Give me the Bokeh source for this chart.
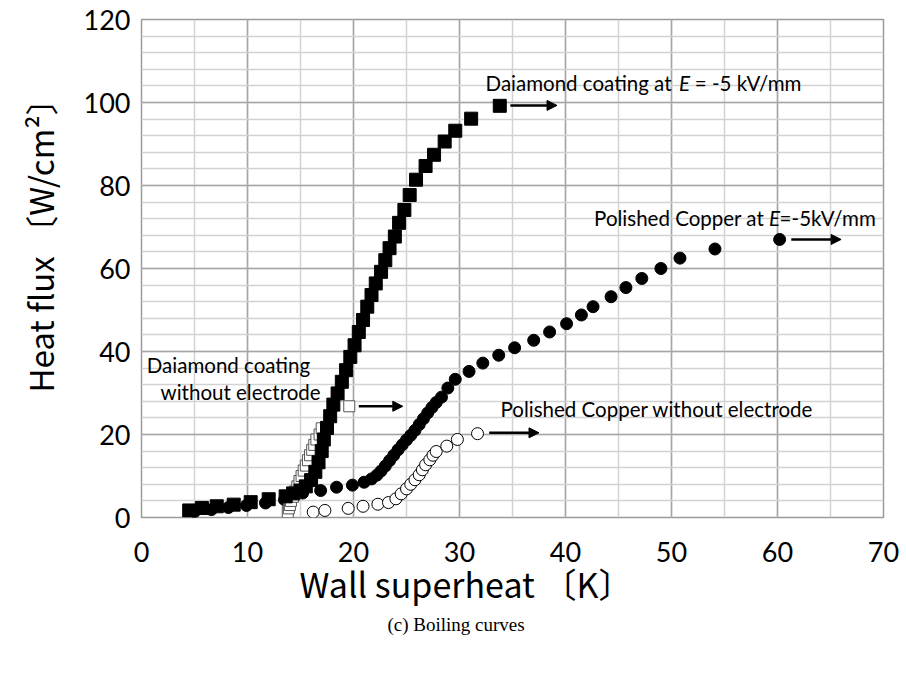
from bokeh.plotting import figure
from bokeh.models import (FixedTicker, Range1d, Arrow, NormalHead, Title)
from bokeh.core.properties import value
from bokeh.embed import file_html
from bokeh.resources import INLINE

# ---- data ----
diamond_e_x = [4.5, 5.7, 7.1, 8.7, 10.3, 12.0, 13.6, 14.3, 15.0, 15.5, 16.0, 16.4, 16.7, 17.0,
               17.2, 17.5, 17.8, 18.1, 18.5, 18.9, 19.3, 19.7, 20.1, 20.5, 20.9, 21.3, 21.7,
               22.1, 22.6, 23.0, 23.4, 23.9, 24.3, 24.8, 25.3, 25.9, 26.8, 27.6, 28.6, 29.6,
               31.1, 33.8]
diamond_e_y = [1.7, 2.3, 2.7, 3.1, 3.7, 4.4, 5.1, 5.8, 6.5, 7.5, 9.0, 11.0, 13.3, 16.0,
               18.8, 21.6, 24.4, 27.2, 29.9, 32.7, 35.5, 38.7, 41.5, 44.7, 47.6, 50.8, 53.6,
               56.4, 59.2, 62.0, 64.9, 67.7, 71.0, 74.1, 77.7, 81.4, 84.7, 87.4, 90.6, 93.2,
               96.1, 99.2]

diamond_0_x = [13.8, 13.9, 14.0, 14.1, 14.3, 14.5, 14.7, 14.9, 15.1, 15.3, 15.5, 15.7,
               15.9, 16.1, 16.3, 16.5, 16.8, 17.0, 19.6]
diamond_0_y = [1.3, 2.2, 3.0, 4.0, 5.0, 6.3, 7.5, 8.8, 10.0, 11.3, 12.5, 13.8,
               15.0, 16.3, 17.5, 18.8, 20.0, 21.5, 26.8]

copper_e_x = [5.0, 6.6, 8.2, 9.9, 11.7, 13.5, 15.2, 16.9, 18.4, 19.9, 21.0, 21.7, 22.2, 22.6,
              23.0, 23.4, 23.8, 24.2, 24.6, 25.0, 25.4, 25.8, 26.2, 26.6, 27.0, 27.4, 27.8,
              28.3, 28.9, 29.6, 30.9, 32.2, 33.7, 35.2, 37.0, 38.5, 40.1, 41.5, 42.6, 44.3,
              45.7, 47.2, 49.0, 50.8, 54.1, 60.2]
copper_e_y = [1.4, 1.9, 2.4, 2.9, 3.5, 4.3, 5.9, 6.5, 7.3, 7.8, 8.5, 9.3, 10.2, 11.2,
              12.4, 13.7, 15.0, 16.3, 17.5, 18.7, 19.8, 21.0, 22.4, 23.8, 25.2, 26.5, 27.7,
              29.0, 31.2, 33.3, 35.2, 37.2, 39.1, 40.9, 42.7, 44.7, 46.7, 48.8, 50.8, 53.2,
              55.4, 57.6, 60.0, 62.5, 64.7, 67.0]

copper_0_x = [16.2, 17.3, 19.5, 20.9, 22.3, 23.3, 24.0, 24.5, 25.0, 25.4, 25.8, 26.2,
              26.5, 26.8, 27.2, 27.5, 27.8, 28.8, 29.8, 31.7]
copper_0_y = [1.3, 1.7, 2.2, 2.7, 3.2, 3.6, 4.5, 5.7, 6.9, 8.0, 9.1, 10.3,
              11.5, 12.7, 13.9, 15.0, 15.9, 17.2, 18.8, 20.2]

x_ticks = [0, 10, 20, 30, 40, 50, 60, 70]
y_ticks = [0, 20, 40, 60, 80, 100, 120]
x_minor = [0, 5, 10, 15, 20, 25, 30, 35, 40, 45, 50, 55, 60, 65, 70]
y_minor = list(range(0, 121, 4))

x_title = "Wall superheat 〔K〕"
y_title = "Heat flux 〔W/cm²〕"
caption = "(c) Boiling curves"

FONT = "Lato"
LABEL_FONT = "Noto Sans CJK JP"

p = figure(width=906, height=673, output_backend="svg", toolbar_location=None,
           x_range=Range1d(0, 70), y_range=Range1d(0, 120),
           min_border_left=138, min_border_right=23, min_border_top=19, min_border_bottom=156)

p.outline_line_color = "#9a9a9a"
p.outline_line_width = 1.5

for ax, ticks, minor in ((p.xaxis[0], x_ticks, x_minor), (p.yaxis[0], y_ticks, y_minor)):
    ax.ticker = FixedTicker(ticks=ticks, minor_ticks=minor)
    ax.axis_line_color = None
    ax.major_tick_line_color = None
    ax.minor_tick_line_color = None
    ax.major_label_text_font = FONT
    ax.major_label_text_font_size = "27px"
    ax.major_label_text_color = "#000000"

p.xaxis.major_label_standoff = 18
p.yaxis.major_label_standoff = 5

for g in (p.xgrid[0], p.ygrid[0]):
    g.grid_line_color = "#a6a6a6"
    g.grid_line_width = 1.5
    g.minor_grid_line_color = "#d2d2d2"
    g.minor_grid_line_width = 1.5
p.xgrid.ticker = FixedTicker(ticks=x_ticks, minor_ticks=x_minor)
p.ygrid.ticker = FixedTicker(ticks=y_ticks, minor_ticks=y_minor)

# axis titles and caption as Titles, so they can sit off-centre like the reference
xt = Title(text=x_title, align="left", offset=158, standoff=-16, text_font=LABEL_FONT,
           text_font_size="34px", text_font_style="normal", text_color="#000000")
p.add_layout(xt, "below")
cap = Title(text=caption, align="left", offset=246, standoff=25, text_font="Liberation Serif",
            text_font_size="19px", text_font_style="normal", text_color="#000000")
p.add_layout(cap, "below")
yt = Title(text=y_title, align="left", offset=125, standoff=30, vertical_align="top",
           text_font=LABEL_FONT, text_font_size="33px", text_font_style="normal",
           text_color="#000000")
p.add_layout(yt, "left")

# ---- series ----
p.scatter(copper_0_x, copper_0_y, marker="circle", size=12, fill_color="white",
          line_color="#000000", line_width=1)
p.scatter(copper_e_x, copper_e_y, marker="circle", size=12, fill_color="#000000",
          line_color="#000000")
p.scatter(diamond_0_x, diamond_0_y, marker="square", size=11, fill_color="white",
          line_color="#555555", line_width=1)
p.scatter(diamond_e_x, diamond_e_y, marker="square", size=13, fill_color="#000000",
          line_color="#000000")

# ---- annotations ----
def txt(x, y, s, italic=False):
    p.text([x], [y], text=[s], text_font=value(FONT), text_font_size="20.5px",
           text_baseline="middle", text_align="left", text_color="#000000",
           text_font_style="italic" if italic else "normal")

def arrow(x0, x1, y):
    p.add_layout(Arrow(x_start=x0, y_start=y, x_end=x1, y_end=y, line_width=2.5,
                       line_color="#000000",
                       end=NormalHead(size=10, fill_color="#000000", line_color="#000000")))

txt(32.46, 104.8, "Daiamond coating at")
txt(50.7, 104.8, "E", italic=True)
txt(52.2, 104.8, "= -5 kV/mm")
arrow(34.8, 39.2, 99.3)

txt(42.7, 72.2, "Polished Copper at")
txt(59.2, 72.2, "E", italic=True)
txt(60.2, 72.2, "=-5kV/mm")
arrow(61.3, 66.0, 67.0)

txt(33.87, 26.2, "Polished Copper without electrode")
arrow(32.8, 37.5, 20.4)

txt(0.5, 36.7, "Daiamond coating")
txt(1.8, 30.25, "without electrode")
arrow(20.5, 24.65, 26.8)

open("out.html", "w").write(file_html(p, INLINE))
